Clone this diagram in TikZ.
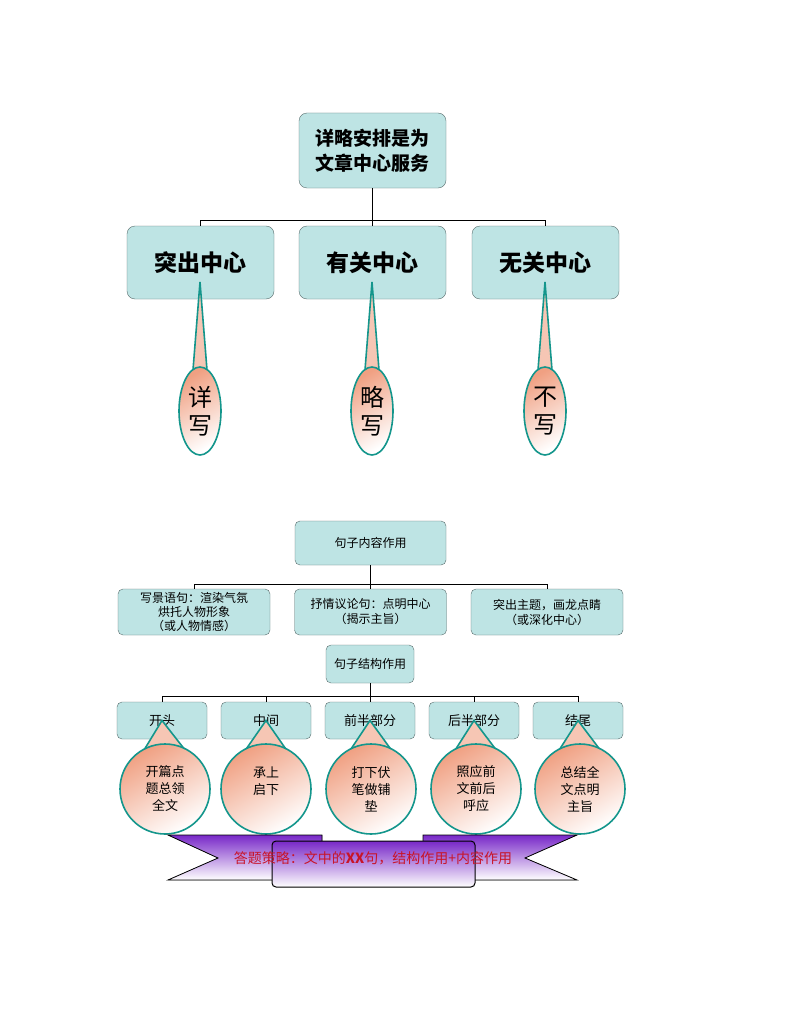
\documentclass[tikz,border=0pt]{standalone}
\usepackage{fontspec}
\setmainfont{Noto Sans CJK SC}
\usetikzlibrary{positioning,shapes.geometric}
\definecolor{boxfill}{RGB}{190,228,228}
\definecolor{boxline}{RGB}{90,110,110}
\definecolor{tealline}{RGB}{20,150,140}
\definecolor{peach}{RGB}{240,160,130}
\definecolor{ribbon}{RGB}{120,40,200}
\definecolor{ribtext}{RGB}{200,20,40}
\tikzset{
	topbox/.style={draw=boxline, fill=boxfill, rounded corners=8pt, inner sep=0pt, align=center},
	subbox/.style={topbox, rounded corners=5pt},
	link/.style={draw=black, line width=1pt},
	bubble/.style={draw=tealline, line width=1.6pt, top color=peach, bottom color=white, shading angle=30},
	tail/.style={draw=tealline, line width=1.6pt, fill=peach!60}
}
\begin{document}
\begin{tikzpicture}[x=1pt,y=-1pt]
		\useasboundingbox[fill=white] (0,0) rectangle (800,1035);
		% upper chart
		\node[topbox, minimum width=147pt, minimum height=75pt, font=\fontsize{19}{25}\selectfont\bfseries] (root) at (372.5,150.5) {详略安排是为\\文章中心服务};
		\node[topbox, minimum width=147pt, minimum height=73pt, font=\fontsize{23}{28}\selectfont\bfseries] (tuchu) at (200.5,262.5) {突出中心};
		\node[topbox, minimum width=147pt, minimum height=73pt, font=\fontsize{23}{28}\selectfont\bfseries] (youguan) at (372.5,262.5) {有关中心};
		\node[topbox, minimum width=147pt, minimum height=73pt, font=\fontsize{23}{28}\selectfont\bfseries] (wuguan) at (545.5,262.5) {无关中心};
		\coordinate (bar) at (372.5,221);
		\draw[link] (root.south) -- (bar);
		\draw[link] (tuchu.north) -- ++(0,-5) -| (wuguan.north);
		\draw[link] (youguan.north) -- ++(0,-5);

		% callouts of the upper chart
		\foreach \name/\cx/\txt in {xiang/200/{详\\写}, lue/372/{略\\写}, bu/545/{不\\写}} {
			\coordinate (\name tip) at (\cx,282);
			\filldraw[tail] (\name tip) -- (\cx+7,370) -- (\cx-7,370) -- cycle;
			\node[bubble, ellipse, minimum width=42pt, minimum height=88pt, inner sep=0pt, align=center, font=\fontsize{24}{28}\selectfont] (\name) at (\cx,411) {\txt};
		}

		% content chart
		\node[subbox, minimum width=151pt, minimum height=44pt, font=\fontsize{12}{15}\selectfont] (neirong) at (370.5,543) {句子内容作用};
		\node[subbox, minimum width=152pt, minimum height=46pt, font=\fontsize{12}{14}\selectfont] (xiejing) at (194,612) {写景语句：渲染气氛\\烘托人物形象\\（或人物情感）};
		\node[subbox, minimum width=152pt, minimum height=46pt, font=\fontsize{12}{15}\selectfont] (shuqing) at (370.5,612) {抒情议论句：点明中心\\（揭示主旨）};
		\node[subbox, minimum width=152pt, minimum height=46pt, font=\fontsize{12}{15}\selectfont] (tuchuzt) at (547,612) {突出主题，画龙点睛\\（或深化中心）};
		\draw[link] (neirong.south) -- (shuqing.north);
		\draw[link] (xiejing.north) -- ++(0,-4) -| (tuchuzt.north);

		% structure chart
		\node[subbox, minimum width=88pt, minimum height=38pt, font=\fontsize{12}{15}\selectfont] (jiegou) at (370,664) {句子结构作用};
		\foreach \name/\cx/\txt in {kaitou/162/开头, zhongjian/266/中间, qianban/370/前半部分, houban/474/后半部分, jiewei/578/结尾}
			\node[subbox, minimum width=90pt, minimum height=37pt, font=\fontsize{13}{15}\selectfont] (\name) at (\cx,720.5) {\txt};
		\draw[link] (jiegou.south) -- (qianban.north);
		\draw[link] (kaitou.north) -- ++(0,-5) -| (jiewei.north);
		\draw[link] (zhongjian.north) -- ++(0,-5);
		\draw[link] (houban.north) -- ++(0,-5);

		% round callouts
		\foreach \name/\parent/\cx/\txt in {c1/kaitou/165/{开篇点\\题总领\\全文}, c2/zhongjian/266/{承上\\启下\\~}, c3/qianban/371/{打下伏\\笔做铺\\垫}, c4/houban/476/{照应前\\文前后\\呼应}, c5/jiewei/580/{总结全\\文点明\\主旨}} {
			\filldraw[tail] (\parent.center) -- (\cx+24,755) -- (\cx-24,755) -- cycle;
			\node[bubble, circle, minimum size=90pt, inner sep=0pt, align=center, font=\fontsize{13}{17}\selectfont] (\name) at (\cx,789) {\txt};
		}

		% ribbon
		\fill[top color=ribbon, bottom color=white, draw=black, line width=0.8pt] (168,835) -- (322,835) -- (322,880) -- (168,880) -- (218,858) -- cycle;
		\fill[top color=ribbon, bottom color=white, draw=black, line width=0.8pt] (577,835) -- (423,835) -- (423,880) -- (577,880) -- (525,858) -- cycle;
		\draw[top color=ribbon, bottom color=white, draw=black, line width=1pt, rounded corners=4pt] (272,841) rectangle (475,887);
		\node[text=ribtext, font=\fontsize{14}{17}\selectfont] (celue) at (373,858) {答题策略：文中的\textbf{XX}句，结构作用+内容作用};
	\end{tikzpicture}
\end{document}
